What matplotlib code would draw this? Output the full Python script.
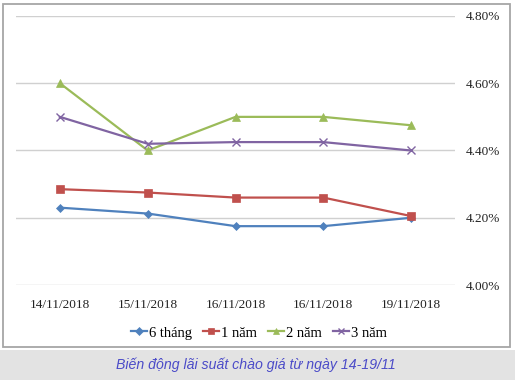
import matplotlib
matplotlib.use('Agg')
import matplotlib.pyplot as plt
from matplotlib.patches import Rectangle
from matplotlib.ticker import FuncFormatter

# data
dates = ['14/11/2018', '15/11/2018', '16/11/2018', '16/11/2018', '19/11/2018']
six_months = [4.23, 4.2125, 4.175, 4.175, 4.20]
one_year = [4.285, 4.275, 4.26, 4.26, 4.205]
two_years = [4.60, 4.40, 4.50, 4.50, 4.475]
three_years = [4.50, 4.42, 4.425, 4.425, 4.40]
series_names = ['6 tháng', '1 năm', '2 năm', '3 năm']
y_ticks = [4.0, 4.2, 4.4, 4.6, 4.8]

W, H = 515, 380
fig = plt.figure(figsize=(W / 100, H / 100), dpi=100)
fig.patch.set_facecolor('white')

# outer chart frame and caption band
fig.patches.append(Rectangle((3 / W, 1 - 347 / H), 507 / W, 343 / H,
                             transform=fig.transFigure, fill=False,
                             edgecolor='#a6a6a6', linewidth=1.3))
fig.patches.append(Rectangle((0, 0), 1, 30 / H, transform=fig.transFigure,
                             facecolor='#e3e3e3', edgecolor='none'))
fig.text(256 / W, 1 - 365 / H, 'Biến động lãi suất chào giá từ ngày 14-19/11',
         ha='center', va='center', fontsize=10.2, style='italic',
         family='Liberation Sans', color='#4b4bc8')

ax = fig.add_axes([16 / W, 1 - 285 / H, 439 / W, 269 / H])
x = list(range(len(dates)))
styles = [
    (six_months, '#4f81bd', 'D', 4.5),
    (one_year, '#c0504d', 's', 6),
    (two_years, '#9bbb59', '^', 6),
    (three_years, '#8064a2', 'x', 5.5),
]
for (vals, col, mk, ms), name in zip(styles, series_names):
    ax.plot(x, vals, color=col, marker=mk, markersize=ms, linewidth=1.6,
            markeredgewidth=1.0 if mk == 'x' else 0.5, label=name,
            clip_on=False)

ax.set_xlim(-0.5, len(dates) - 0.5)
ax.set_ylim(4.0, 4.8)
ax.set_yticks(y_ticks)
ax.yaxis.set_major_formatter(FuncFormatter(lambda v, p: '%.2f%%' % v))
ax.yaxis.tick_right()
ax.set_xticks(x)
ax.set_xticklabels(dates)
ax.grid(axis='y', color='#d0d0d0', linewidth=1)
ax.set_axisbelow(True)
for s in ax.spines.values():
    s.set_visible(False)
ax.tick_params(axis='both', length=0, labelsize=9.5, colors='#222222')
ax.tick_params(axis='y', pad=8)
ax.tick_params(axis='x', pad=10)
for lab in ax.get_xticklabels() + ax.get_yticklabels():
    lab.set_family('Liberation Serif')

leg = fig.legend(loc='center', bbox_to_anchor=(259 / W, 1 - 333 / H), ncol=4,
                 frameon=False, handlelength=1.1, handletextpad=0.15,
                 columnspacing=0.75, markerscale=0.8,
                 prop={'family': 'Liberation Serif', 'size': 10.5})

fig.savefig('out.png', dpi=100)
